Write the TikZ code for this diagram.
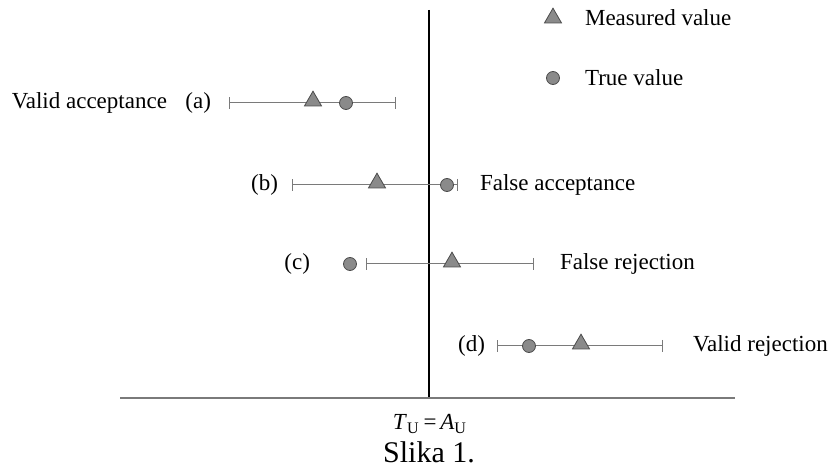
\documentclass[tikz,border=0pt]{standalone}
\usepackage{fontspec}
\setmainfont{Liberation Serif}
\usepackage{xcolor}
\usetikzlibrary{shapes.geometric, arrows.meta}
\definecolor{mark-gray}{HTML}{8A8A8A}
\definecolor{bar-gray}{HTML}{7A7A7A}

\begin{document}
\begin{tikzpicture}[x=0.5pt, y=-0.5pt,
          every node/.style={font=\fontsize{11.5}{13}\selectfont},
          meas/.style={draw=black!70, fill=mark-gray, isosceles triangle,
              shape border rotate=90, isosceles triangle apex angle=60,
              inner sep=0pt, minimum width=8.5pt, minimum height=7pt},
          truev/.style={draw=black!70, fill=mark-gray, circle,
              inner sep=0pt, minimum size=6.5pt},
          errbar/.style={{Bar[width=6pt]}-{Bar[width=6pt]}, bar-gray,
              line width=0.5pt}]
        \useasboundingbox (0,0) rectangle (832,470);
        % Axes: limit line at x=429, base line at y=398
        \coordinate (top) at (429,10);
        \coordinate (bot) at (429,398);
        \coordinate (baseL) at (120,398);
        \coordinate (baseR) at (735,398);
        \draw[line width=0.6pt] (top) -- (bot);
        \draw[bar-gray, line width=0.6pt] (baseL) -- (baseR);
        % Legend
        \node[meas] (legM) at (553,18) {};
        \node[anchor=west] (legMtxt) at (578,18) {Measured value};
        \node[truev] (legT) at (553,78) {};
        \node[anchor=west] (legTtxt) at (578,78) {True value};
        % (a) valid acceptance
        \coordinate (aL) at (229,103);
        \coordinate (aR) at (396,103);
        \draw[errbar] (aL) -- (aR);
        \node[meas] (aM) at (313,101) {};
        \node[truev] (aT) at (346,103) {};
        \node[anchor=east] (aLab) at (218,103) {(a)};
        \node[anchor=east] (aTxt) at (174,103) {Valid acceptance};
        % (b) false acceptance
        \coordinate (bL) at (292,185);
        \coordinate (bR) at (458,185);
        \draw[errbar] (bL) -- (bR);
        \node[meas] (bM) at (377,183) {};
        \node[truev] (bT) at (447,185) {};
        \node[anchor=east] (bLab) at (285,185) {(b)};
        \node[anchor=west] (bTxt) at (473,185) {False acceptance};
        % (c) false rejection
        \coordinate (cL) at (366,264);
        \coordinate (cR) at (534,264);
        \draw[errbar] (cL) -- (cR);
        \node[meas] (cM) at (452,262) {};
        \node[truev] (cT) at (350,264) {};
        \node[anchor=east] (cLab) at (317,264) {(c)};
        \node[anchor=west] (cTxt) at (553,264) {False rejection};
        % (d) valid rejection
        \coordinate (dL) at (497,346);
        \coordinate (dR) at (663,346);
        \draw[errbar] (dL) -- (dR);
        \node[meas] (dM) at (581,344) {};
        \node[truev] (dT) at (529,346) {};
        \node[anchor=east] (dLab) at (492,346) {(d)};
        \node[anchor=west] (dTxt) at (686,346) {Valid rejection};
        % Captions
        \node (lim) at (430,424)
            {\textit{T}\textsubscript{U}\,=\,\textit{A}\textsubscript{U}};
        \node[font=\fontsize{15}{17}\selectfont] (cap) at (429,452) {Slika 1.};
      \end{tikzpicture}
\end{document}
